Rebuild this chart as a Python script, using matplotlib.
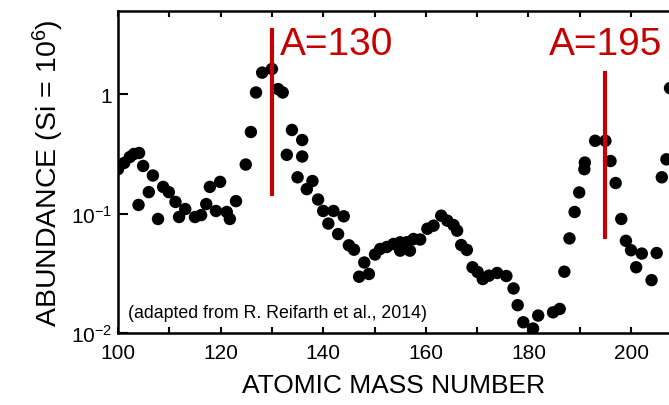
import matplotlib
matplotlib.use("Agg")
import matplotlib.pyplot as plt
from matplotlib.ticker import FixedLocator, MultipleLocator, NullLocator

plt.rcParams['font.family'] = ['Liberation Sans', 'DejaVu Sans']
plt.rcParams['mathtext.fontset'] = 'custom'
plt.rcParams['mathtext.rm'] = 'Liberation Sans'
plt.rcParams['mathtext.it'] = 'Liberation Sans:italic'

# solar r-process abundances, mass number vs abundance (Si = 1e6)
mass = [100.0, 101.2, 102.3, 103.1, 104.1, 104.0, 104.9, 106.0, 106.8, 107.8,
        108.8, 109.9, 111.2, 111.9, 113.1, 115.0, 116.2, 117.2, 117.9, 119.1,
        119.9, 121.2, 121.8, 123.0, 124.9, 125.9, 126.9, 128.1, 130.0, 131.2,
        132.1, 133.9, 132.9, 135.0, 135.9, 135.9, 136.8, 137.9, 139.0, 140.0,
        142.0, 141.0, 142.9, 144.0, 145.0, 146.0, 147.0, 148.0, 148.9, 150.1,
        151.1, 152.4, 153.7, 155.0, 155.0, 156.3, 156.9, 157.6, 158.9, 160.3,
        161.5, 163.0, 164.2, 165.4, 166.1, 166.9, 168.0, 169.1, 170.1, 171.1,
        172.3, 173.9, 175.7, 177.1, 177.9, 179.0, 180.9, 181.9, 184.8, 186.1,
        187.0, 188.0, 189.0, 189.9, 190.9, 191.0, 193.0, 195.0, 196.0, 197.0,
        198.1, 199.0, 200.0, 202.1, 201.0, 204.0, 205.0, 206.0, 206.9, 207.6]
abund = [0.235, 0.265, 0.297, 0.315, 0.321, 0.118, 0.250, 0.151, 0.208, 0.090,
         0.167, 0.151, 0.125, 0.0935, 0.109, 0.0935, 0.097, 0.120, 0.167, 0.105,
         0.184, 0.103, 0.090, 0.127, 0.257, 0.481, 1.03, 1.51, 1.62, 1.10,
         1.03, 0.50, 0.310, 0.201, 0.412, 0.300, 0.160, 0.187, 0.131, 0.105,
         0.105, 0.0824, 0.0673, 0.0948, 0.0542, 0.0498, 0.0296, 0.0389, 0.0312, 0.0454,
         0.0505, 0.0525, 0.0556, 0.0574, 0.0489, 0.0575, 0.0489, 0.0612, 0.0606, 0.0746,
         0.0791, 0.0959, 0.0871, 0.080, 0.0718, 0.0545, 0.0496, 0.0355, 0.0324, 0.0283,
         0.0302, 0.0318, 0.030, 0.0236, 0.0171, 0.0123, 0.0109, 0.0140, 0.0149, 0.0159,
         0.0326, 0.0619, 0.103, 0.150, 0.235, 0.267, 0.406, 0.406, 0.275, 0.180,
         0.090, 0.0591, 0.0493, 0.0462, 0.0355, 0.0277, 0.0467, 0.201, 0.284, 1.12]

# r-process peaks marked in red: mass number, line bottom/top, label anchor
peaks = [130, 195]
peak_lo = [0.14, 0.0612]
peak_hi = [3.56, 1.56]
label_x = [131.6, 195]
label_ha = ['left', 'center']
label_y = 2.16
red = '#c40000'

fig = plt.figure(figsize=(6.69, 4.06), dpi=100)
ax = fig.add_axes([0.1764, 0.1773, 0.8236, 0.7931])

ax.scatter(mass, abund, s=80, color='black', edgecolors='none', zorder=3)

for a, lo, hi, lx, ha in zip(peaks, peak_lo, peak_hi, label_x, label_ha):
    ax.plot([a, a], [lo, hi], color=red, lw=3, solid_capstyle='butt', zorder=4)
    ax.text(lx, label_y, f'A={a}', color=red, fontsize=28,
            ha=ha, va='baseline', zorder=5)

ax.set_yscale('log')
ax.set_xlim(100, 207.4)
ax.set_ylim(0.01, 4.95)

ax.xaxis.set_major_locator(MultipleLocator(20))
ax.xaxis.set_minor_locator(MultipleLocator(10))
ax.yaxis.set_major_locator(FixedLocator([0.01, 0.1, 1]))
ax.yaxis.set_minor_locator(NullLocator())
ax.set_yticklabels([r'$10^{-2}$', r'$10^{-1}$', '1'])

ax.tick_params(axis='x', which='both', direction='in', top=True, length=4,
               width=1.5, labelsize=15, pad=7)
ax.tick_params(axis='y', which='major', direction='in', length=7, width=1.5,
               labelsize=15, pad=4)

for side in ['left', 'bottom', 'top']:
    ax.spines[side].set_linewidth(1.8)
ax.spines['right'].set_visible(False)

ax.set_xlabel('ATOMIC MASS NUMBER', fontsize=19, labelpad=8)
ax.set_ylabel(r'ABUNDANCE (Si = 10$^{6}$)', fontsize=20.5, labelpad=4)

ax.text(102, 0.0135, '(adapted from R. Reifarth et al., 2014)', fontsize=12.8,
        ha='left', va='baseline')

fig.savefig('out.png', dpi=100)
